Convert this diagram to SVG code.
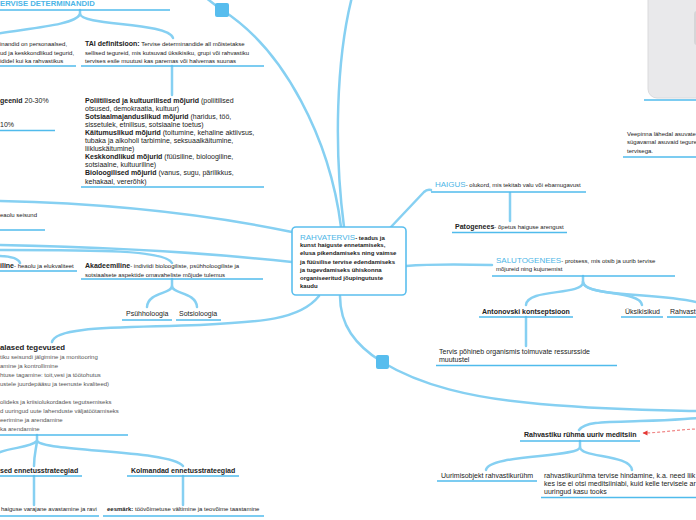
<svg xmlns="http://www.w3.org/2000/svg" width="696" height="520" viewBox="0 0 696 520">
<defs>
<style>
text{font-family:'Liberation Sans',Arial,sans-serif;fill:#222}
.h{fill:#4cb5e6;font-size:8px}
.hb{fill:#4cb5e6;font-size:7.7px;font-weight:bold}
.b{font-weight:bold;font-size:7px}
.n{font-size:7px}
.s{font-size:6px}
.g{font-size:6px;fill:#555}
.cb{font-weight:bold;font-size:6px}
.u{stroke:#50bbec;stroke-width:1.6;fill:none}
.c{stroke:#86d0f2;stroke-width:2.5;fill:none;stroke-linecap:round}
.sq{fill:#57bdee}
.rel{stroke:#f08a8a;stroke-width:1.2;fill:none;stroke-dasharray:3 2}
</style>
<marker id="ah" markerUnits="userSpaceOnUse" markerWidth="6" markerHeight="6" refX="4.5" refY="3" orient="auto">
<path d="M0,0.4 L5,3 L0,5.6 Z" fill="#e53935"/>
</marker>
</defs>
<rect width="696" height="520" fill="#ffffff"/>

<g id="connectors">
<path class="c" d="M205,-3 C 210,1 215,5 222,10"/>
<path class="c" d="M222,10 C 285,50 330,140 341,227"/>
<path class="c" d="M352,-3 C 336,60 334,150 344,227"/>
<path class="c" d="M-5,201 C 100,203 200,213 292,232"/>
<path class="c" d="M-5,245 C 100,247 200,252 292,262"/>
<path class="c" d="M-5,250 C 100,250 165,250 172,263"/>
<path class="c" d="M-5,256 C 5,256 18,257 20,263"/>
<path class="c" d="M390,228 L424,192 Q427,189 431,190"/>
<path class="c" d="M406,266 C 430,264 450,264 492,265"/>
<path class="c" d="M340,296 C 340,325 355,345 382,362"/>
<path class="c" d="M382,362 C 420,385 470,398 540,404 S 650,410 700,411"/>
<path class="c" d="M319,296 C 300,320 260,322 200,325 C 120,328 55,326 52,342"/>
<path class="c" d="M579,430 C 585,422 600,422 640,421 S 680,419 700,418"/>
<path class="rel" d="M700,429 C 680,429 662,433 643,433" marker-end="url(#ah)"/>
<path class="c" d="M80,10 V14 C 82,26 168,22 173,38"/>
<path class="c" d="M80,14 C 76,25 30,28 -5,34"/>
<path class="c" d="M172,66 V95"/>
<path class="c" d="M510,193 V221"/>
<path class="c" d="M583,276 V282 C 583,296 527,288 526,305"/>
<path class="c" d="M583,282 C 584,296 640,290 642,305"/>
<path class="c" d="M583,282 C 586,298 660,292 700,303"/>
<path class="c" d="M526,317 V346"/>
<path class="c" d="M172,279 V286 C 172,294 148,292 147,307"/>
<path class="c" d="M172,286 C 172,294 196,292 197,307"/>
<path class="c" d="M580,441 V447 C 580,458 488,454 486,470"/>
<path class="c" d="M580,447 C 580,458 630,454 632,470"/>
<path class="c" d="M37,435 V441 C 30,448 10,447 -5,454"/>
<path class="c" d="M37,441 C 36,450 34,455 34,466"/>
<path class="c" d="M37,441 C 45,452 170,450 183,466"/>
<path class="c" d="M34,476 V505"/>
<path class="c" d="M183,476 V505"/>
<rect class="sq" x="215" y="3" width="14" height="14" rx="2"/>
<rect class="sq" x="376" y="355" width="13" height="14" rx="2"/>
</g>

<g id="n-center">
<rect x="292" y="227" width="114" height="68" rx="4" fill="#fff" stroke="#5bbfee" stroke-width="1.6"/>
<text x="300" y="240"><tspan class="h">RAHVATERVIS</tspan><tspan class="cb">- teadus ja</tspan></text>
<text class="cb" x="300" y="247">kunst haiguste ennetamiseks,</text>
<text class="cb" x="300" y="255.3">elusa pikendamiseks ning vaimse</text>
<text class="cb" x="300" y="263.5">ja füüsilise tervise edendamiseks</text>
<text class="cb" x="300" y="271.8">ja tugevdamiseks ühiskonna</text>
<text class="cb" x="300" y="280">organiseeritud jõupingutuste</text>
<text class="cb" x="300" y="288.3">kaudu</text>
</g>

<g id="n-determinandid">
<text class="hb" x="0" y="6">ERVISE DETERMINANDID</text>
<line class="u" x1="0" y1="10" x2="170" y2="10"/>
</g>

<g id="n-determinandid-def">
<text class="s" x="0" y="46">inandid on personaalsed,</text>
<text class="s" x="0" y="55">ud ja keskkondlikud tegurid,</text>
<text class="s" x="0" y="63">ididel kui ka rahvastikus</text>
<line class="u" x1="0" y1="66" x2="76" y2="66"/>
</g>

<g id="n-tai">
<text x="85" y="46"><tspan class="b">TAI definitsioon:</tspan><tspan class="s"> Tervise determinandide all mõistetakse</tspan></text>
<text class="s" x="85" y="55">sellised tegureid, mis kutsuvad üksikisiku, grupi või rahvastiku</text>
<text class="s" x="85" y="63">tervises esile muutusi kas paremas või halvemas suunas</text>
<line class="u" x1="81" y1="66" x2="264" y2="66"/>
</g>

<g id="n-mojurid">
<text x="85" y="102.5"><tspan class="b">Poliitilised ja kultuurilised mõjurid</tspan><tspan class="n"> (poliitilised</tspan></text>
<text class="n" x="85" y="110.6">otsused, demokraatia, kultuur)</text>
<text x="85" y="118.7"><tspan class="b">Sotsiaalmajanduslikud mõjurid</tspan><tspan class="n"> (haridus, töö,</tspan></text>
<text class="n" x="85" y="126.8">sissetulek, etnilisus, sotsiaalne toetus)</text>
<text x="85" y="134.9"><tspan class="b">Käitumuslikud mõjurid</tspan><tspan class="n"> (toitumine, kehaline aktiivsus,</tspan></text>
<text class="n" x="85" y="143">tubaka ja alkoholi tarbimine, seksuaalkäitumine,</text>
<text class="n" x="85" y="151.1">liikluskäitumine)</text>
<text x="85" y="159.2"><tspan class="b">Keskkondlikud mõjurid</tspan><tspan class="n"> (füüsiline, bioloogiline,</tspan></text>
<text class="n" x="85" y="167.3">sotsiaalne, kultuuriline)</text>
<text x="85" y="175.4"><tspan class="b">Bioloogilised mõjurid</tspan><tspan class="n"> (vanus, sugu, pärilikkus,</tspan></text>
<text class="n" x="85" y="183.5">kehakaal, vererõhk)</text>
<line class="u" x1="81" y1="187" x2="264" y2="187"/>
</g>

<g id="n-geenid">
<text x="0" y="102.5"><tspan class="b">geenid</tspan><tspan class="n">  20-30%</tspan></text>
<text class="n" x="0" y="127">10%</text>
<line class="u" x1="0" y1="130.5" x2="55" y2="130.5"/>
</g>

<g id="n-heaolu">
<text class="s" x="0" y="217">eaolu seisund</text>
<line class="u" x1="0" y1="230" x2="45" y2="230"/>
</g>

<g id="n-holistiline">
<text x="0" y="268"><tspan class="b">iline</tspan><tspan class="s">- heaolu ja elukvaliteet</tspan></text>
<line class="u" x1="0" y1="271" x2="77" y2="271"/>
</g>

<g id="n-akadeemiline">
<text x="85" y="268"><tspan class="b">Akadeemiline</tspan><tspan class="s">- indiviidi bioloogiliste, psühholoogiliste ja</tspan></text>
<text class="s" x="85" y="276.5">sotsiaalsete aspektide omavaheliste mõjude tulemus</text>
<line class="u" x1="81" y1="279" x2="263" y2="279"/>
</g>

<g id="n-psyhholoogia">
<text class="n" x="126" y="315.5">Psühholoogia</text>
<line class="u" x1="122" y1="320" x2="172" y2="320"/>
</g>

<g id="n-sotsioloogia">
<text class="n" x="179" y="315.5">Sotsioloogia</text>
<line class="u" x1="176" y1="320" x2="221" y2="320"/>
</g>

<g id="n-tegevused">
<text style="font-weight:bold;font-size:7.8px" x="0" y="349.5">alased tegevused</text>
<text class="g" x="0" y="359">tiku seisundi jälgimine ja monitooring</text>
<text class="g" x="0" y="368">amine ja kontrollimine</text>
<text class="g" x="0" y="377">htuse tagamine: toit,vesi ja töötohutus</text>
<text class="g" x="0" y="386">ustele juurdepääsu ja teenuste kvaliteed)</text>
<text class="g" x="0" y="404">olideks ja kriisiolukordades tegutsemiseks</text>
<text class="g" x="0" y="413">d uuringud uute lahenduste väljatöötamiseks</text>
<text class="g" x="0" y="422">eerimine ja arendamine</text>
<text class="g" x="0" y="431">ka arendamine</text>
<line class="u" x1="0" y1="435" x2="128" y2="435"/>
</g>

<g id="n-teisesed">
<text class="b" x="0" y="473">sed ennetusstrateegiad</text>
<line class="u" x1="0" y1="476" x2="82" y2="476"/>
</g>

<g id="n-kolmandad">
<text class="b" x="131" y="473">Kolmandad ennetusstrateegiad</text>
<line class="u" x1="127" y1="476" x2="239" y2="476"/>
</g>

<g id="n-teisesed-eesmark">
<text class="s" x="1" y="511">haiguse varajane avastamine ja ravi</text>
<line class="u" x1="0" y1="516" x2="99" y2="516"/>
</g>

<g id="n-kolmandad-eesmark">
<text x="107" y="511"><tspan class="cb">eesmärk:</tspan><tspan class="s"> töövõimetuse vältimine ja teovõime taastamine</tspan></text>
<line class="u" x1="103" y1="516" x2="264" y2="516"/>
</g>

<g id="n-pilt">
<rect x="648" y="-10" width="70" height="108" rx="9" fill="#e9e9eb" stroke="#dadadc" stroke-width="1"/>
<rect x="694" y="11" width="10" height="34" rx="3" fill="#d6d6d8"/>
<line class="u" x1="644" y1="100" x2="696" y2="100"/>
</g>

<g id="n-veepinna">
<text class="s" x="627" y="136">Veepinna lähedal asuvate</text>
<text class="s" x="627" y="144">sügavamal asuvaid tegure</text>
<text class="s" x="627" y="152.5">tervisega.</text>
<line class="u" x1="623" y1="157" x2="696" y2="157"/>
</g>

<g id="n-haigus">
<text x="435" y="187"><tspan class="h">HAIGUS</tspan><tspan class="s">- olukord, mis tekitab valu või ebamugavust</tspan></text>
<line class="u" x1="431" y1="192" x2="586" y2="192"/>
</g>

<g id="n-patogenees">
<text x="455" y="229"><tspan class="b">Patogenees</tspan><tspan class="s">- õpetus haiguse arengust</tspan></text>
<line class="u" x1="452" y1="232.5" x2="567" y2="232.5"/>
</g>

<g id="n-salutogenees">
<text x="496" y="262.5"><tspan class="h">SALUTOGENEES</tspan><tspan class="s">- protsess, mis otsib ja uurib tervise</tspan></text>
<text class="s" x="496" y="271">mõjureid ning kujunemist</text>
<line class="u" x1="492" y1="276" x2="675" y2="276"/>
</g>

<g id="n-antonovski">
<text class="b" x="482" y="313.5">Antonovski kontseptsioon</text>
<line class="u" x1="479" y1="317" x2="573" y2="317"/>
</g>

<g id="n-yksikisikud">
<text class="n" x="625" y="313.5">Üksikisikud</text>
<line class="u" x1="621" y1="317" x2="663" y2="317"/>
</g>

<g id="n-rahvastik">
<text class="n" x="670" y="313.5">Rahvast</text>
<line class="u" x1="667" y1="317" x2="696" y2="317"/>
</g>

<g id="n-ressursid">
<text class="n" x="439" y="354">Tervis põhineb organismis toimuvate ressursside</text>
<text class="n" x="439" y="362">muutustel</text>
<line class="u" x1="436" y1="365.5" x2="617" y2="365.5"/>
</g>

<g id="n-rahvastiku-meditsiin">
<text class="b" x="524" y="436.5">Rahvastiku rühma uuriv meditsiin</text>
<line class="u" x1="520" y1="441" x2="640" y2="441"/>
</g>

<g id="n-uurimisobjekt">
<text class="n" x="441" y="477.5">Uurimisobjekt rahvastikurühm</text>
<line class="u" x1="437" y1="481" x2="537" y2="481"/>
</g>

<g id="n-hindamine">
<text class="n" x="544" y="477.5">rahvastikurühma tervise hindamine, k.a. need liik</text>
<text class="n" x="544" y="485.7">kes ise ei otsi meditsiiniabi, kuid kelle tervisele ar</text>
<text class="n" x="544" y="494">uuringud kasu tooks</text>
<line class="u" x1="541" y1="497.5" x2="696" y2="497.5"/>
</g>
</svg>
